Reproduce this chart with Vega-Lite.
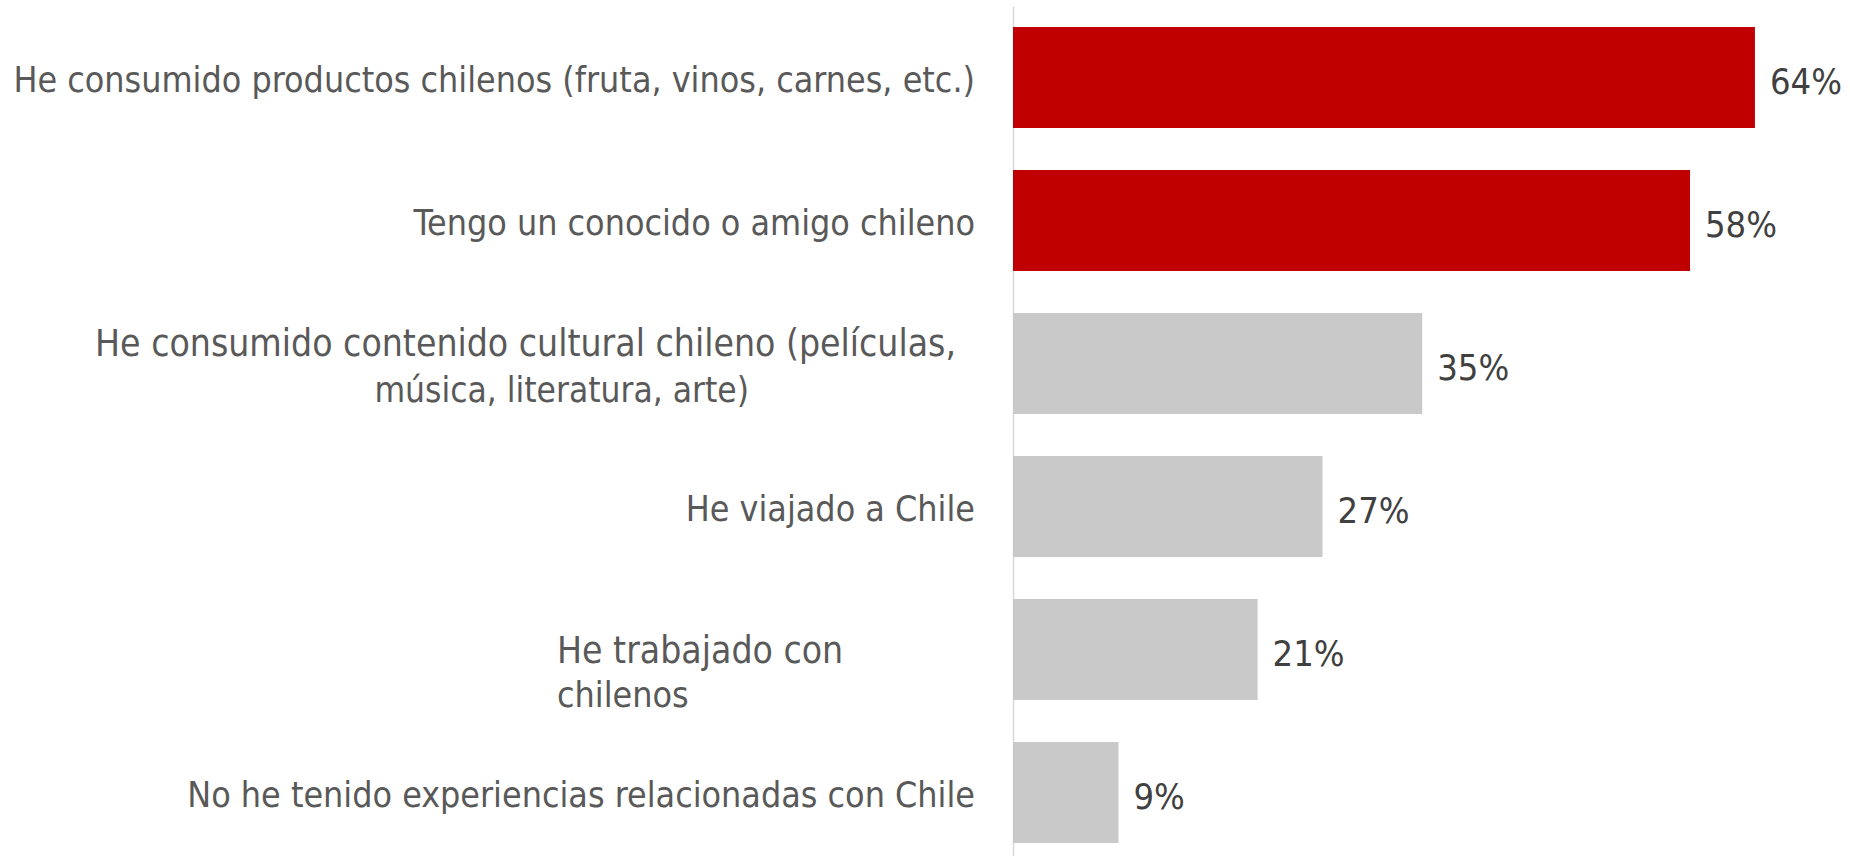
{
  "$schema": "https://vega.github.io/schema/vega-lite/v6.json",
  "autosize": {"type": "none"},
  "padding": {"left": 1013, "top": 6, "right": 0, "bottom": 0},
  "width": 837,
  "height": 858,
  "background": "white",
  "config": {"view": {"stroke": null}, "font": "DejaVu Sans Condensed"},
  "datasets": {
    "barras": [
      {"cat": "He consumido productos chilenos (fruta, vinos, carnes, etc.)", "valor": 64, "grupo": "destacado"},
      {"cat": "Tengo un conocido o amigo chileno", "valor": 58.4, "grupo": "destacado"},
      {"cat": "He consumido contenido cultural chileno (películas, música, literatura, arte)", "valor": 35.3, "grupo": "otro"},
      {"cat": "He viajado a Chile", "valor": 26.7, "grupo": "otro"},
      {"cat": "He trabajado con chilenos", "valor": 21.1, "grupo": "otro"},
      {"cat": "No he tenido experiencias relacionadas con Chile", "valor": 9.1, "grupo": "otro"}
    ],
    "etiquetas": [
      {"cat": "He consumido productos chilenos (fruta, vinos, carnes, etc.)", "texto": "He consumido productos chilenos (fruta, vinos, carnes, etc.)", "estilo": "derecha"},
      {"cat": "Tengo un conocido o amigo chileno", "texto": "Tengo un conocido o amigo chileno", "estilo": "derecha"},
      {"cat": "He consumido contenido cultural chileno (películas, música, literatura, arte)", "texto": "He consumido contenido cultural chileno (películas,", "estilo": "c1"},
      {"cat": "He consumido contenido cultural chileno (películas, música, literatura, arte)", "texto": "música,  literatura, arte)", "estilo": "c2"},
      {"cat": "He viajado a Chile", "texto": "He viajado a Chile", "estilo": "derecha"},
      {"cat": "He trabajado con chilenos", "texto": "He trabajado con", "estilo": "t1"},
      {"cat": "He trabajado con chilenos", "texto": "chilenos", "estilo": "t2"},
      {"cat": "No he tenido experiencias relacionadas con Chile", "texto": "No he tenido experiencias relacionadas con Chile", "estilo": "derecha"}
    ]
  },
  "encoding": {
    "y": {
      "field": "cat",
      "type": "nominal",
      "scale": {
        "domain": [
          "He consumido productos chilenos (fruta, vinos, carnes, etc.)",
          "Tengo un conocido o amigo chileno",
          "He consumido contenido cultural chileno (películas, música, literatura, arte)",
          "He viajado a Chile",
          "He trabajado con chilenos",
          "No he tenido experiencias relacionadas con Chile"
        ],
        "paddingInner": 0.294,
        "paddingOuter": 0.147
      },
      "axis": {"labels": false, "ticks": false, "title": null, "domain": true, "domainColor": "#D9D9D9", "domainWidth": 1.5, "grid": false}
    }
  },
  "layer": [
    {
      "data": {"name": "barras"},
      "mark": {"type": "bar"},
      "encoding": {
        "x": {"field": "valor", "type": "quantitative", "scale": {"domain": [0, 72.2], "nice": false}, "axis": null},
        "color": {"field": "grupo", "type": "nominal", "scale": {"domain": ["destacado", "otro"], "range": ["#C00000", "#C9C9C9"]}, "legend": null}
      }
    },
    {
      "data": {"name": "barras"},
      "transform": [{"calculate": "format(datum.valor, '.0f') + '%'", "as": "pct"}],
      "mark": {"type": "text", "align": "left", "baseline": "middle", "dx": 15, "dy": 5, "fontSize": 36, "color": "#404040"},
      "encoding": {
        "x": {"field": "valor", "type": "quantitative"},
        "text": {"field": "pct", "type": "nominal"}
      }
    },
    {
      "data": {"name": "etiquetas"},
      "transform": [{"filter": "datum.estilo == 'derecha'"}],
      "mark": {"type": "text", "align": "right", "baseline": "middle", "dx": -38, "dy": 3, "fontSize": 35.5, "color": "#595959"},
      "encoding": {"x": {"datum": 0, "type": "quantitative"}, "text": {"field": "texto"}}
    },
    {
      "data": {"name": "etiquetas"},
      "transform": [{"filter": "datum.estilo == 'c1'"}],
      "mark": {"type": "text", "align": "right", "baseline": "middle", "dx": -57, "dy": -19, "fontSize": 37, "color": "#595959"},
      "encoding": {"x": {"datum": 0, "type": "quantitative"}, "text": {"field": "texto"}}
    },
    {
      "data": {"name": "etiquetas"},
      "transform": [{"filter": "datum.estilo == 'c2'"}],
      "mark": {"type": "text", "align": "right", "baseline": "middle", "dx": -264, "dy": 27, "fontSize": 35, "color": "#595959"},
      "encoding": {"x": {"datum": 0, "type": "quantitative"}, "text": {"field": "texto"}}
    },
    {
      "data": {"name": "etiquetas"},
      "transform": [{"filter": "datum.estilo == 't1'"}],
      "mark": {"type": "text", "align": "left", "baseline": "middle", "dx": -456, "dy": 2, "fontSize": 37, "color": "#595959"},
      "encoding": {"x": {"datum": 0, "type": "quantitative"}, "text": {"field": "texto"}}
    },
    {
      "data": {"name": "etiquetas"},
      "transform": [{"filter": "datum.estilo == 't2'"}],
      "mark": {"type": "text", "align": "left", "baseline": "middle", "dx": -456, "dy": 46, "fontSize": 35.5, "color": "#595959"},
      "encoding": {"x": {"datum": 0, "type": "quantitative"}, "text": {"field": "texto"}}
    }
  ]
}
